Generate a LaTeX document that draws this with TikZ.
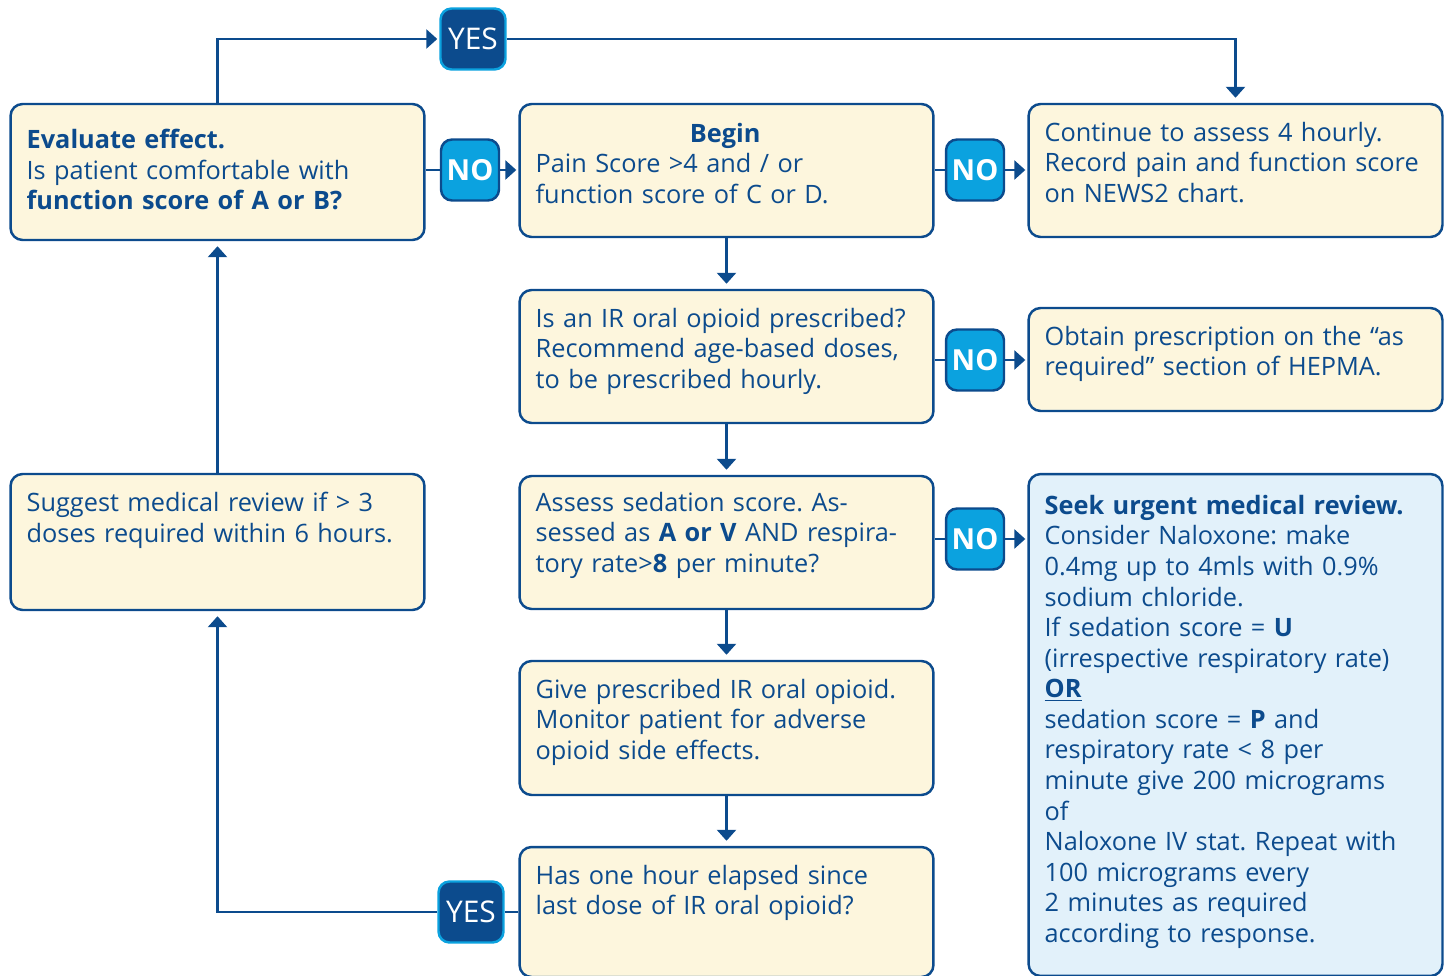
\documentclass[tikz,border=0pt]{standalone}
\usepackage{fontspec}
\setmainfont{Open Sans}
\usetikzlibrary{arrows.meta}
\definecolor{navy}{HTML}{0C4B8D}
\definecolor{skyno}{HTML}{0BA2DF}
\definecolor{cream}{HTML}{FDF6DD}
\definecolor{paleblue}{HTML}{E2F1FA}
\frenchspacing
\begin{document}
\begin{tikzpicture}[x=0.02cm, y=-0.02cm,
		every node/.style={text=navy, font=\fontsize{14.4}{17.4}\selectfont},
		box/.style={draw=navy, line width=1.4pt, fill=cream, rounded corners=0.24cm, minimum width=8.28cm},
		txt/.style={anchor=north west, inner sep=0pt, text width=7.9cm, align=left},
		no/.style={draw=navy, line width=1.4pt, fill=skyno, rounded corners=0.22cm, text=white, font=\fontsize{16.5}{18}\selectfont\bfseries, minimum width=1.16cm, minimum height=1.22cm, inner sep=0pt},
		yes/.style={draw=skyno, line width=1.4pt, fill=navy, rounded corners=0.22cm, text=white, font=\fontsize{17}{18}\selectfont, minimum width=1.3cm, minimum height=1.22cm, inner sep=0pt},
		line/.style={draw=navy, line width=1.5pt},
		arr/.style={line, -{Triangle[length=0.22cm, width=0.38cm]}, shorten >=0.04cm},
		down/.style={arr, shorten >=0.1cm}]
	\useasboundingbox (0,0) rectangle (1449,976);

	% boxes
	\node[box, minimum height=2.72cm] (eval) at (217.5, 172) {};
	\node[box, minimum height=2.72cm] (suggest) at (217.5, 542) {};
	\node[box, minimum height=2.66cm] (begin) at (726.5, 170.5) {};
	\node[box, minimum height=2.66cm] (pres) at (726.5, 356.5) {};
	\node[box, minimum height=2.66cm] (assess) at (726.5, 542.5) {};
	\node[box, minimum height=2.68cm] (give) at (726.5, 728) {};
	\node[box, minimum height=2.6cm] (hour) at (726.5, 912) {};
	\node[box, minimum height=2.66cm] (cont) at (1235.5, 170.5) {};
	\node[box, minimum height=2.06cm] (obtain) at (1235.5, 359.5) {};
	\node[box, fill=paleblue, minimum height=10.04cm] (seek) at (1235.5, 725) {};

	% texts
	\node[txt] (evalt) at ([shift={(17,26)}]eval.north west) {\textbf{Evaluate effect.}\\ Is patient comfortable with\\ \textbf{function score of A or B?}};
	\node[txt, text width=7.58cm] (begint) at ([shift={(17,20)}]begin.north west) {\hfill\textbf{Begin}\hfill\mbox{}\\ Pain Score >4 and / or\\ function score of C or D.};
	\node[txt] (contt) at ([shift={(17,19)}]cont.north west) {Continue to assess 4 hourly.\\ Record pain and function score\\ on NEWS2 chart.};
	\node[txt] (prest) at ([shift={(17,19)}]pres.north west) {Is an IR oral opioid prescribed?\\ Recommend age-based doses,\\ to be prescribed hourly.};
	\node[txt] (obtaint) at ([shift={(17,19)}]obtain.north west) {Obtain prescription on the “as\\ required” section of HEPMA.};
	\node[txt] (suggestt) at ([shift={(17,19)}]suggest.north west) {Suggest medical review if > 3\\ doses required within 6 hours.};
	\node[txt] (assesst) at ([shift={(17,17)}]assess.north west) {Assess sedation score. As-\\ sessed as \textbf{A or V} AND respira-\\ tory rate>\textbf{8} per minute?};
	\node[txt] (givet) at ([shift={(17,19)}]give.north west) {Give prescribed IR oral opioid.\\ Monitor patient for adverse\\ opioid side effects.};
	\node[txt] (hourt) at ([shift={(17,19)}]hour.north west) {Has one hour elapsed since\\ last dose of IR oral opioid?};
	\node[txt] (seekt) at ([shift={(17,22)}]seek.north west) {\textbf{Seek urgent medical review.}\\ Consider Naloxone: make\\ 0.4mg up to 4mls with 0.9\%\\ sodium chloride.\\ If sedation score = \textbf{U}\\ (irrespective respiratory rate)\\ \textbf{\underline{OR}}\\ sedation score = \textbf{P} and\\ respiratory rate < 8 per\\ minute give 200 micrograms\\ of\\ Naloxone IV stat. Repeat with\\ 100 micrograms every\\ 2 minutes as required\\ according to response.};

	% yes / no
	\node[yes] (yestop) at (473, 39) {YES};
	\node[yes] (yesbot) at (471, 912) {YES};
	\node[no] (noa) at (470, 170) {NO};
	\node[no] (nob) at (975, 170) {NO};
	\node[no] (noc) at (975, 360) {NO};
	\node[no] (nod) at (975, 539) {NO};

	% connectors
	\draw[arr] (eval) |- (yestop);
	\draw[down] (yestop) -| (cont);
	\draw[line] (noa -| eval.east) -- (noa);
	\draw[arr] (noa) -- (noa -| begin.west);
	\draw[line] (nob -| begin.east) -- (nob);
	\draw[arr] (nob) -- (nob -| cont.west);
	\draw[line] (noc -| pres.east) -- (noc);
	\draw[arr] (noc) -- (noc -| obtain.west);
	\draw[line] (nod -| assess.east) -- (nod);
	\draw[arr] (nod) -- (nod -| seek.west);
	\draw[down] (begin) -- (pres);
	\draw[down] (pres) -- (assess);
	\draw[down] (assess) -- (give);
	\draw[down] (give) -- (hour);
	\draw[line] (hour) -- (yesbot);
	\draw[down] (yesbot) -| (suggest);
	\draw[down] (suggest) -- (eval);
\end{tikzpicture}
\end{document}
